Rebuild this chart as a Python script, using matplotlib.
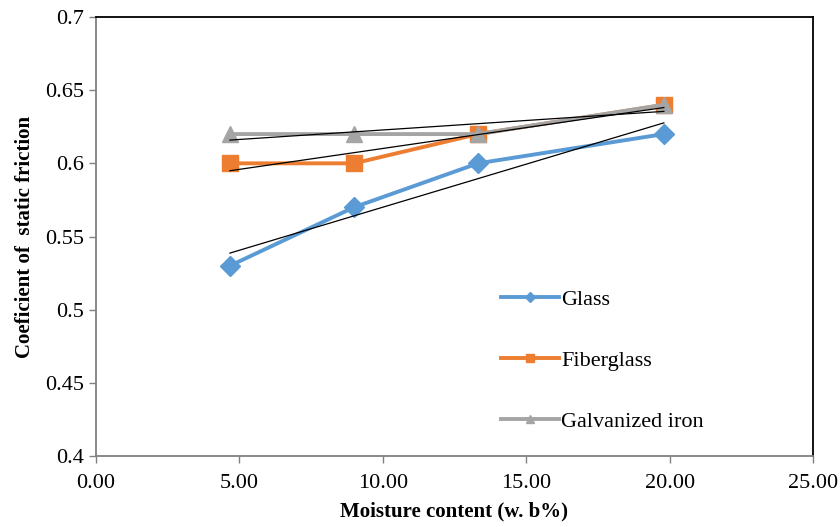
import numpy as np
import matplotlib
matplotlib.use('Agg')
import matplotlib.pyplot as plt
from matplotlib.lines import Line2D

# moisture content (w.b %) and static friction coefficients
moisture = [4.67, 9.0, 13.32, 19.8]
glass = [0.53, 0.57, 0.60, 0.62]
fiberglass = [0.60, 0.60, 0.62, 0.64]
galvanized = [0.62, 0.62, 0.62, 0.64]

series = [
    ('Glass', glass, '#5B9BD5', 'D', 10),
    ('Fiberglass', fiberglass, '#ED7D31', 's', 11),
    ('Galvanized iron', galvanized, '#A5A5A5', '^', 11),
]

plt.rcParams['font.family'] = ['Liberation Serif', 'DejaVu Serif']

fig = plt.figure(figsize=(8.4, 5.27), dpi=100)
ax = fig.add_axes([96 / 840, 1 - 456 / 527, 717 / 840, 439 / 527])

x = np.array(moisture)
handles = []
for name, y, col, mk, ms in series:
    ax.plot(x, y, color=col, lw=2.8, marker=mk, ms=ms, zorder=3)
    handles.append(Line2D([], [], color=col, lw=2.8, marker=mk, ms=ms * 0.55, label=name))

# linear trendlines
for name, y, col, mk, ms in series:
    k, b = np.polyfit(x, y, 1)
    ax.plot(x[[0, -1]], k * x[[0, -1]] + b, color='black', lw=0.9, zorder=4)

ax.set_xlim(0, 25)
ax.set_ylim(0.4, 0.7)
ax.set_xticks(np.arange(0, 26, 5))
ax.set_xticklabels(['%.2f' % v for v in np.arange(0, 26, 5)])
ax.set_yticks([0.4, 0.45, 0.5, 0.55, 0.6, 0.65, 0.7])
ax.set_yticklabels(['0.4', '0.45', '0.5', '0.55', '0.6', '0.65', '0.7'])
ax.tick_params(labelsize=16, color='#808080', length=5, width=1, direction='out')
ax.tick_params(axis='x', pad=8)

for s in ['left', 'bottom']:
    ax.spines[s].set_color('#808080')
    ax.spines[s].set_linewidth(1.3)
for s in ['top', 'right']:
    ax.spines[s].set_color('black')
    ax.spines[s].set_linewidth(1.3)

ax.set_xlabel('Moisture content (w. b%)', fontsize=15, fontweight='bold', labelpad=6)
ax.set_ylabel('Coeficient of  static friction', fontsize=15, fontweight='bold', labelpad=7)

ax.legend(handles=handles, loc='upper left', bbox_to_anchor=(0.553, 0.40), frameon=False,
          fontsize=16, handlelength=2.6, labelspacing=1.82, handletextpad=0.1,
          borderaxespad=0)

fig.savefig('out.png', dpi=100)
